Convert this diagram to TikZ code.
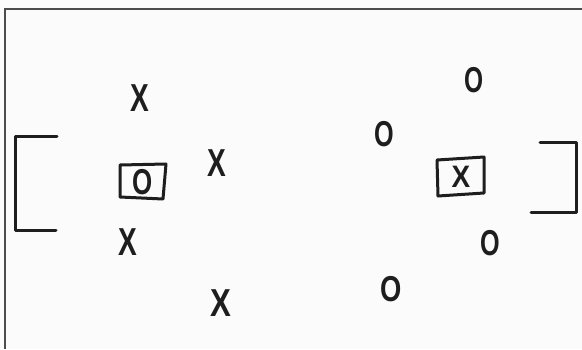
\documentclass[tikz,border=0pt]{standalone}
\usepackage{fontspec}
\setmainfont{Liberation Sans}
\definecolor{ink}{HTML}{1E1E1E}
\definecolor{paper}{HTML}{FCFBFB}
\begin{document}
\begin{tikzpicture}[x=1pt,y=-1pt,
  pen/.style={line width=3pt, draw=ink, line cap=round, line join=round},
  frame/.style={line width=1.8pt, draw=black!70},
  xmark/.style={inner sep=0pt, text=ink, font=\bfseries\fontsize{39}{39}\selectfont},
  omark/.style={inner sep=0pt, text=ink, font=\bfseries\fontsize{36}{36}\selectfont},
  bxmark/.style={inner sep=0pt, text=ink, font=\bfseries\fontsize{31}{31}\selectfont}]
\fill[paper] (0,0) rectangle (582,349);
\useasboundingbox (0,0) rectangle (582,349);
% frame
\coordinate (fb) at (4.7,349);
\coordinate (fc) at (4.7,9.3);
\coordinate (fr) at (582,9.3);
\draw[frame] (fb) -- (fc) -- (fr);
% brackets
\coordinate (lb1) at (57,136);
\coordinate (lb2) at (15,136);
\coordinate (lb3) at (15,230);
\coordinate (lb4) at (56,230);
\draw[pen] (lb1) -- (lb2) -- (lb3) -- (lb4);
\coordinate (rb1) at (540,142);
\coordinate (rb2) at (576,142);
\coordinate (rb3) at (576,212);
\coordinate (rb4) at (531,212);
\draw[pen] (rb1) -- (rb2) -- (rb3) -- (rb4);
% X marks
\node[xmark] (x1) at (140,98) {\scalebox{0.72}[1]{X}};
\node[xmark] (x2) at (217,163) {\scalebox{0.72}[1]{X}};
\node[xmark] (x3) at (128,242) {\scalebox{0.72}[1]{X}};
\node[xmark] (x4) at (221,303) {\scalebox{0.8}[1]{X}};
% O marks
\node[omark] (o1) at (474,80) {\scalebox{0.68}[1]{O}};
\node[omark] (o2) at (384,134) {\scalebox{0.7}[1]{O}};
\node[omark] (o3) at (490,243) {\scalebox{0.7}[1]{O}};
\node[omark] (o4) at (391,289) {\scalebox{0.76}[1]{O}};
% boxed O
\node[omark] (bo) at (143,182) {\scalebox{0.72}[1]{O}};
\coordinate (bo1) at (120,165);
\coordinate (bo2) at (166,164);
\coordinate (bo3) at (163,199);
\coordinate (bo4) at (120,197);
\draw[pen] (bo1) -- (bo2) -- (bo3) -- (bo4) -- cycle;
% boxed X
\node[bxmark] (bx) at (461,177) {\scalebox{0.9}[1]{X}};
\coordinate (bx1) at (437,160);
\coordinate (bx2) at (484,157);
\coordinate (bx3) at (484,193);
\coordinate (bx4) at (438,196);
\draw[pen] (bx1) -- (bx2) -- (bx3) -- (bx4) -- cycle;
\end{tikzpicture}
\end{document}
